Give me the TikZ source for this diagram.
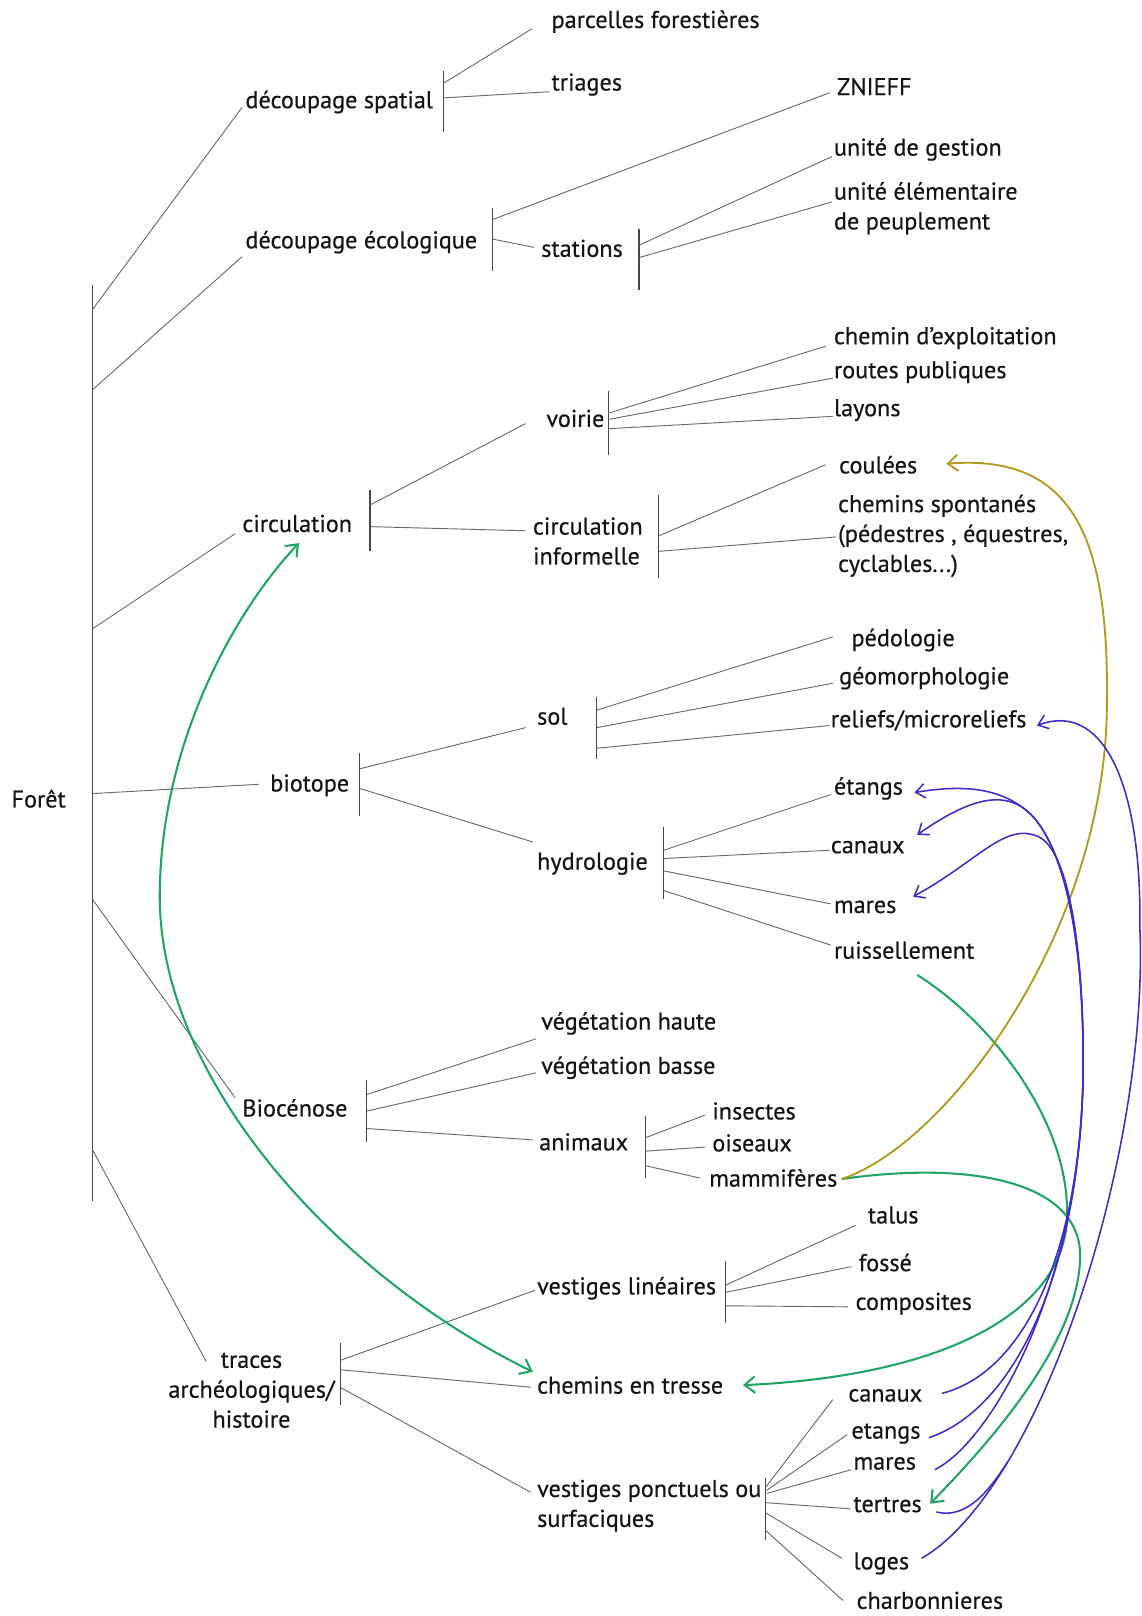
\documentclass[tikz,border=0pt]{standalone}
\usepackage{fontspec}
\setmainfont{PT Sans}[FakeBold=0.45]
\usetikzlibrary{arrows.meta}
\definecolor{grn}{RGB}{30,165,100}
\definecolor{blu}{RGB}{60,45,200}
\definecolor{olv}{RGB}{178,152,28}
\definecolor{txt}{RGB}{20,20,20}
\definecolor{lnc}{RGB}{105,105,105}
\definecolor{barc}{RGB}{70,70,70}
\begin{document}
\begin{tikzpicture}[x=1pt,y=-1pt,
  lbl/.style={anchor=west,inner sep=0pt,font=\fontsize{23.5}{29}\selectfont,text=txt},
  ml/.style={lbl,align=left},
  tl/.style={draw=lnc,line width=0.9pt},
  barl/.style={draw=barc,line width=1.1pt},
  gcur/.style={draw=grn,line width=2pt},
  bcur/.style={draw=blu,line width=1.5pt},
  ocur/.style={draw=olv,line width=1.8pt},
  gtip/.style={-{Straight Barb[length=10pt,width=16pt]}},
  gtips/.style={{Straight Barb[length=10pt,width=16pt]}-{Straight Barb[length=10pt,width=16pt]}},
  btip/.style={-{Straight Barb[length=9pt,width=14pt]}}
]
\useasboundingbox (0,0) rectangle (1107.2,1568);

% ---------- labels ----------
\node[lbl] (foret) at (11,775) {Forêt};
\node[lbl] (dsp) at (238,99) {découpage spatial};
\node[lbl] (dec) at (238,235) {découpage écologique};
\node[lbl] (circ) at (235,508) {circulation};
\node[lbl] (bio) at (262,762) {biotope};
\node[lbl] (bioc) at (235,1075) {Biocénose};
\node[lbl,align=center,anchor=center] (traces) at (244,1349) {traces\\archéologiques/\\histoire};

\node[lbl] (parc) at (535,21) {parcelles forestières};
\node[lbl] (tri) at (535,82) {triages};
\node[lbl] (zni) at (812,84) {ZNIEFF};
\node[lbl] (stat) at (525,241) {stations};
\node[lbl] (ug) at (809,145) {unité de gestion};
\node[ml] (ue) at (809,202) {unité élémentaire\\de peuplement};

\node[lbl] (voi) at (530,406) {voirie};
\node[ml] (cinf) at (517,525) {circulation\\informelle};
\node[lbl] (che) at (809,328) {chemin d’exploitation};
\node[lbl] (rou) at (809,361) {routes publiques};
\node[lbl] (lay) at (809,398) {layons};
\node[lbl] (cou) at (814,451) {coulées};
\node[ml] (csp) at (813,520) {chemins spontanés\\(pédestres , équestres,\\cyclables...)};

\node[lbl] (sol) at (521,695) {sol};
\node[lbl] (hyd) at (521,838) {hydrologie};
\node[lbl] (ped) at (826,621) {pédologie};
\node[lbl] (geo) at (814,658) {géomorphologie};
\node[lbl] (rel) at (806,699) {reliefs/microreliefs};
\node[lbl] (eta) at (809,765) {étangs};
\node[lbl] (can) at (806,822) {canaux};
\node[lbl] (mar) at (809,880) {mares};
\node[lbl] (rui) at (809,922) {ruissellement};

\node[lbl] (vh) at (525,993) {végétation haute};
\node[lbl] (vb) at (525,1036) {végétation basse};
\node[lbl] (ani) at (523,1108) {animaux};
\node[lbl] (ins) at (691,1078) {insectes};
\node[lbl] (ois) at (691,1109) {oiseaux};
\node[lbl] (mam) at (688,1143) {mammifères};

\node[lbl] (vl) at (521,1250) {vestiges linéaires};
\node[lbl] (cet) at (521,1344) {chemins en tresse};
\node[ml] (vp) at (521,1461) {vestiges ponctuels ou\\surfaciques};
\node[lbl] (tal) at (842,1179) {talus};
\node[lbl] (fos) at (833,1225) {fossé};
\node[lbl] (com) at (830,1265) {composites};
\node[lbl] (can2) at (823,1354) {canaux};
\node[lbl] (eta2) at (826,1391) {etangs};
\node[lbl] (mar2) at (828,1420) {mares};
\node[lbl] (ter) at (828,1460) {tertres};
\node[lbl] (log) at (828,1517) {loges};
\node[lbl,anchor=base west] (cha) at (831,1561) {charbonnieres};

% ---------- main bar ----------
\coordinate (mT) at (90,277); \coordinate (mB) at (90,1165);
\draw[barl] (mT) -- (mB);
\coordinate (m1) at (90,300);  \coordinate (m2) at (90,378);
\coordinate (m3) at (90,610);  \coordinate (m4) at (90,770);
\coordinate (m5) at (90,873);  \coordinate (m6) at (90,1116);
\draw[tl] (m1) -- ([shift={(-3,5)}]dsp.west);
\draw[tl] (m2) -- ([shift={(-3,14)}]dec.west);
\draw[tl] (m3) -- ([shift={(-7,10)}]circ.west);
\draw[tl] (m4) -- ([shift={(-11,-1)}]bio.west);
\draw[tl] (m5) -- ([shift={(-7,-10)}]bioc.west);
\draw[tl] (m6) -- ([shift={(-44,-28)}]traces.center);

% ---------- découpage spatial ----------
\coordinate (s1T) at (430,69); \coordinate (s1B) at (430,128);
\draw[barl] (s1T) -- (s1B);
\coordinate (s1a) at (430,81); \coordinate (s1b) at (430,95);
\draw[tl] (s1a) -- ([shift={(-19,7)}]parc.west);
\draw[tl] (s1b) -- ([shift={(-2,7)}]tri.west);

% ---------- découpage écologique ----------
\coordinate (s2T) at (478,202); \coordinate (s2B) at (478,263);
\draw[barl] (s2T) -- (s2B);
\coordinate (s2a) at (478,213); \coordinate (s2b) at (478,232);
\draw[tl] (s2a) -- ([shift={(-7,6)}]zni.west);
\draw[tl] (s2b) -- ([shift={(-7,-1)}]stat.west);

% ---------- stations ----------
\coordinate (s3T) at (620,222); \coordinate (s3B) at (620,281);
\draw[barl] (s3T) -- (s3B);
\coordinate (s3a) at (620,238); \coordinate (s3b) at (620,250);
\draw[tl] (s3a) -- ([shift={(-2,7)}]ug.west);
\draw[tl] (s3b) -- ([shift={(-2,-6)}]ue.west);

% ---------- circulation ----------
\coordinate (s4T) at (359,475); \coordinate (s4B) at (359,535);
\draw[barl] (s4T) -- (s4B);
\coordinate (s4a) at (359,490); \coordinate (s4b) at (359,511);
\draw[tl] (s4a) -- ([shift={(-20,5)}]voi.west);
\draw[tl] (s4b) -- ([shift={(-7,-10)}]cinf.west);

% ---------- voirie ----------
\coordinate (s5T) at (590,379); \coordinate (s5B) at (590,441);
\draw[barl] (s5T) -- (s5B);
\coordinate (s5a) at (590,401); \coordinate (s5b) at (590,407); \coordinate (s5c) at (590,416);
\draw[tl] (s5a) -- ([shift={(-8,8)}]che.west);
\draw[tl] (s5b) -- ([shift={(-1,6)}]rou.west);
\draw[tl] (s5c) -- ([shift={(-1,6)}]lay.west);

% ---------- circulation informelle ----------
\coordinate (s6T) at (639,480); \coordinate (s6B) at (639,561);
\draw[barl] (s6T) -- (s6B);
\coordinate (s6a) at (639,520); \coordinate (s6b) at (639,535);
\draw[tl] (s6a) -- ([shift={(-13,0)}]cou.west);
\draw[tl] (s6b) -- ([shift={(-2,1)}]csp.west);

% ---------- biotope ----------
\coordinate (s7T) at (349,731); \coordinate (s7B) at (349,792);
\draw[barl] (s7T) -- (s7B);
\coordinate (s7a) at (349,746); \coordinate (s7b) at (349,765);
\draw[tl] (s7a) -- ([shift={(-11,11)}]sol.west);
\draw[tl] (s7b) -- ([shift={(-4,-21)}]hyd.west);

% ---------- sol ----------
\coordinate (s8T) at (579,676); \coordinate (s8B) at (579,736);
\draw[barl] (s8T) -- (s8B);
\coordinate (s8a) at (579,689); \coordinate (s8b) at (579,706); \coordinate (s8c) at (579,726);
\draw[tl] (s8a) -- ([shift={(-18,-3)}]ped.west);
\draw[tl] (s8b) -- ([shift={(-6,5)}]geo.west);
\draw[tl] (s8c) -- ([shift={(-1,5)}]rel.west);

% ---------- hydrologie ----------
\coordinate (s9T) at (644,802); \coordinate (s9B) at (644,872);
\draw[barl] (s9T) -- (s9B);
\coordinate (s9a) at (644,825); \coordinate (s9b) at (644,833);
\coordinate (s9c) at (644,845); \coordinate (s9d) at (644,864);
\draw[tl] (s9a) -- ([shift={(-3,6)}]eta.west);
\draw[tl] (s9b) -- ([shift={(-1,3)}]can.west);
\draw[tl] (s9c) -- ([shift={(-3,-3)}]mar.west);
\draw[tl] (s9d) -- ([shift={(-3,-5)}]rui.west);

% ---------- Biocénose ----------
\coordinate (s10T) at (356,1048); \coordinate (s10B) at (356,1108);
\draw[barl] (s10T) -- (s10B);
\coordinate (s10a) at (356,1062); \coordinate (s10b) at (356,1078); \coordinate (s10c) at (356,1095);
\draw[tl] (s10a) -- ([shift={(-5,15)}]vh.west);
\draw[tl] (s10b) -- ([shift={(-5,5)}]vb.west);
\draw[tl] (s10c) -- ([shift={(-6,-2)}]ani.west);

% ---------- animaux ----------
\coordinate (s11T) at (626,1083); \coordinate (s11B) at (626,1143);
\draw[barl] (s11T) -- (s11B);
\coordinate (s11a) at (626,1104); \coordinate (s11b) at (626,1117); \coordinate (s11c) at (626,1131);
\draw[tl] (s11a) -- ([shift={(-7,4)}]ins.west);
\draw[tl] (s11b) -- ([shift={(-7,4)}]ois.west);
\draw[tl] (s11c) -- ([shift={(-9,0)}]mam.west);

% ---------- traces ----------
\coordinate (s12T) at (330,1303); \coordinate (s12B) at (330,1363);
\draw[barl] (s12T) -- (s12B);
\coordinate (s12a) at (330,1320); \coordinate (s12b) at (330,1329); \coordinate (s12c) at (330,1346);
\draw[tl] (s12a) -- ([shift={(-2,2)}]vl.west);
\draw[tl] (s12b) -- ([shift={(-6,2)}]cet.west);
\draw[tl] (s12c) -- ([shift={(-6,-13)}]vp.west);

% ---------- vestiges linéaires ----------
\coordinate (s13T) at (704,1224); \coordinate (s13B) at (704,1284);
\draw[barl] (s13T) -- (s13B);
\coordinate (s13a) at (704,1247); \coordinate (s13b) at (704,1254); \coordinate (s13c) at (704,1267);
\draw[tl] (s13a) -- ([shift={(-12,10)}]tal.west);
\draw[tl] (s13b) -- ([shift={(-7,4)}]fos.west);
\draw[tl] (s13c) -- ([shift={(-7,3)}]com.west);

% ---------- vestiges ponctuels ----------
\coordinate (s14T) at (743,1434); \coordinate (s14B) at (743,1494);
\draw[barl] (s14T) -- (s14B);
\coordinate (s14a) at (743,1443); \coordinate (s14b) at (744,1446); \coordinate (s14c) at (744,1449);
\coordinate (s14d) at (743,1458); \coordinate (s14e) at (743,1468); \coordinate (s14f) at (743,1485);
\draw[tl] (s14a) -- ([shift={(-15,4)}]can2.west);
\draw[tl] (s14b) -- ([shift={(-4,1)}]eta2.west);
\draw[tl] (s14c) -- ([shift={(-2,6)}]mar2.west);
\draw[tl] (s14d) -- ([shift={(-3,4)}]ter.west);
\draw[tl] (s14e) -- ([shift={(-11,-5)}]log.west);
\draw[tl] (s14f) -- ([shift={(-13,-8)}]cha.base west);

% ---------- green links ----------
\draw[gcur,gtips] ([shift={(55,19)}]circ.west)
  .. controls (230,590) and (155,720) .. (155,870)
  .. controls (155,1050) and (330,1240) .. ([shift={(-4,-13)}]cet.west);
\draw[gcur,gtip] ([shift={(81,24)}]rui.west)
  .. controls (960,990) and (1030,1080) .. (1035,1165)
  .. controls (1045,1270) and (920,1335) .. ([shift={(19,0)}]cet.east);
\draw[gcur,gtip] ([shift={(4,1)}]mam.east)
  .. controls (950,1125) and (1045,1150) .. (1048,1215)
  .. controls (1050,1300) and (960,1400) .. ([shift={(8,-1)}]ter.east);

% ---------- olive link ----------
\draw[ocur,gtip] ([shift={(4,1)}]mam.east)
  .. controls (920,1110) and (1075,900) .. (1074,680)
  .. controls (1076,520) and (1040,440) .. ([shift={(28,-1)}]cou.east);

% ---------- blue links ----------
\coordinate (bm) at (1051,1030);
\draw[bcur,btip] ([shift={(8,4)}]eta2.east)
  .. controls (990,1365) and (1051,1220) .. (bm)
  .. controls (1051,900) and (1030,820) .. (1000,790)
  .. controls (970,762) and (930,762) .. ([shift={(11,4)}]eta.east);
\draw[bcur,btip] ([shift={(19,-2)}]can2.east)
  .. controls (1000,1330) and (1051,1200) .. (bm)
  .. controls (1051,900) and (1030,820) .. (1000,790)
  .. controls (975,765) and (940,775) .. ([shift={(12,-12)}]can.east);
\draw[bcur,btip] ([shift={(18,6)}]mar2.east)
  .. controls (960,1400) and (1051,1250) .. (bm)
  .. controls (1051,910) and (1035,825) .. (1008,812)
  .. controls (975,797) and (950,835) .. ([shift={(16,-10)}]mar.east);
\draw[bcur,btip] ([shift={(12,-5)}]log.east)
  .. controls (1010,1445) and (1115,1120) .. coordinate[pos=0.25] (bj) (1106,900)
  .. controls (1108,760) and (1070,680) .. ([shift={(10,5)}]rel.east);
\draw[bcur] ([shift={(14,7)}]ter.east)
  .. controls (940,1475) and (962,1442) .. (bj);
\end{tikzpicture}
\end{document}
